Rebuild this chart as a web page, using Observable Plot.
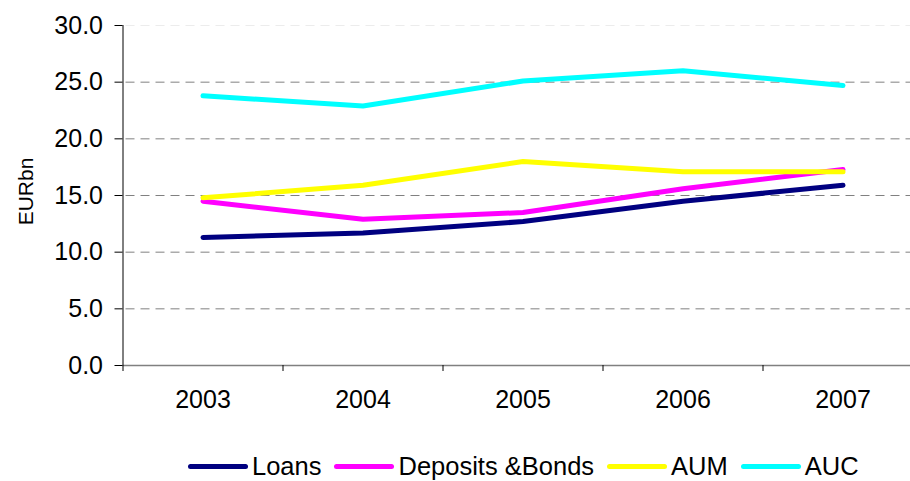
<!DOCTYPE html>
<html>
<head>
<meta charset="utf-8">
<script src="https://cdn.jsdelivr.net/npm/d3@7"></script>
<script src="https://cdn.jsdelivr.net/npm/@observablehq/plot@0.6"></script>
<style>
  html, body { margin: 0; padding: 0; background: #fff; overflow: hidden; width: 910px; height: 481px; }
  #chart { position: relative; width: 910px; height: 481px; font-family: "Liberation Sans", Arial, sans-serif; }
  #chart svg { position: absolute; left: 0; top: 0; overflow: hidden; }
  #legend { position: absolute; left: 188px; top: 452px; display: flex; align-items: center; font-size: 25.5px; color: #000; white-space: nowrap; }
  #legend .item { display: flex; align-items: center; margin-right: 13px; }
  #legend .sw { width: 60px; height: 5px; border-radius: 3px; margin-right: 4px; }
</style>
</head>
<body>
<div id="chart"></div>
<script>
const years = [2003, 2004, 2005, 2006, 2007];
const seriesNames = ["Loans", "Deposits &Bonds", "AUM", "AUC"];
const loans = [11.3, 11.7, 12.7, 14.5, 15.9];
const deposits = [14.5, 12.9, 13.5, 15.6, 17.3];
const aum = [14.8, 15.9, 18.0, 17.1, 17.1];
const auc = [23.8, 22.9, 25.1, 26.0, 24.7];
const colors = ["#000080", "#FF00FF", "#FFFF00", "#00FFFF"];
const yTicks = [0, 5, 10, 15, 20, 25, 30];
const yLabel = "EURbn";

const seriesValues = [loans, deposits, aum, auc];
const data = seriesNames.flatMap((name, i) =>
  years.map((yr, j) => ({ series: name, year: yr, value: seriesValues[i][j] }))
);
const boundaries = [2002.5, 2003.5, 2004.5, 2005.5, 2006.5, 2007.5];

const plot = Plot.plot({
  width: 910,
  height: 445,
  marginTop: 25,
  marginBottom: 80,
  marginLeft: 122.5,
  marginRight: 0,
  style: { fontFamily: "Liberation Sans, Arial, sans-serif", background: "transparent" },
  x: { domain: [2002.5, 2007.5], range: [122.5, 922.5] },
  y: { domain: [0, 30] },
  color: { domain: seriesNames, range: colors },
  marks: [
    Plot.ruleY([5, 10, 15, 20, 25], { stroke: "#808080", strokeDasharray: "9,6", strokeDashoffset: -3, strokeWidth: 1 }),
    Plot.ruleY([30], { stroke: "#808080", strokeOpacity: 0.15, strokeDasharray: "9,6", strokeDashoffset: -3 }),
    Plot.ruleY([0], { stroke: "#808080", strokeWidth: 1.5 }),
    Plot.ruleX([2002.5], { stroke: "#000", strokeWidth: 1 }),
    Plot.axisY({ ticks: yTicks, tickSize: 8, tickPadding: 12, tickFormat: d => d.toFixed(1), fontSize: 25, label: null, stroke: "#000" }),
    Plot.axisX({ ticks: boundaries, tickSize: 6, tickFormat: () => "", label: null, stroke: "#000" }),
    Plot.axisX({ ticks: years, tickSize: 0, tickPadding: 25, tickFormat: d => String(d), fontSize: 25, label: null }),
    Plot.text([yLabel], { frameAnchor: "left", textAnchor: "middle", dx: -97, dy: -4, rotate: -90, fontSize: 21, fill: "#000" }),
    Plot.lineY(data, { x: "year", y: "value", z: "series", stroke: "series", strokeWidth: 5, strokeLinecap: "round", strokeLinejoin: "round" })
  ]
});
document.getElementById("chart").appendChild(plot);

const legend = document.createElement("div");
legend.id = "legend";
seriesNames.forEach((name, i) => {
  const item = document.createElement("div");
  item.className = "item";
  const sw = document.createElement("div");
  sw.className = "sw";
  sw.style.background = colors[i];
  const t = document.createElement("span");
  t.textContent = name;
  item.appendChild(sw);
  item.appendChild(t);
  legend.appendChild(item);
});
document.getElementById("chart").appendChild(legend);
</script>
</body>
</html>
